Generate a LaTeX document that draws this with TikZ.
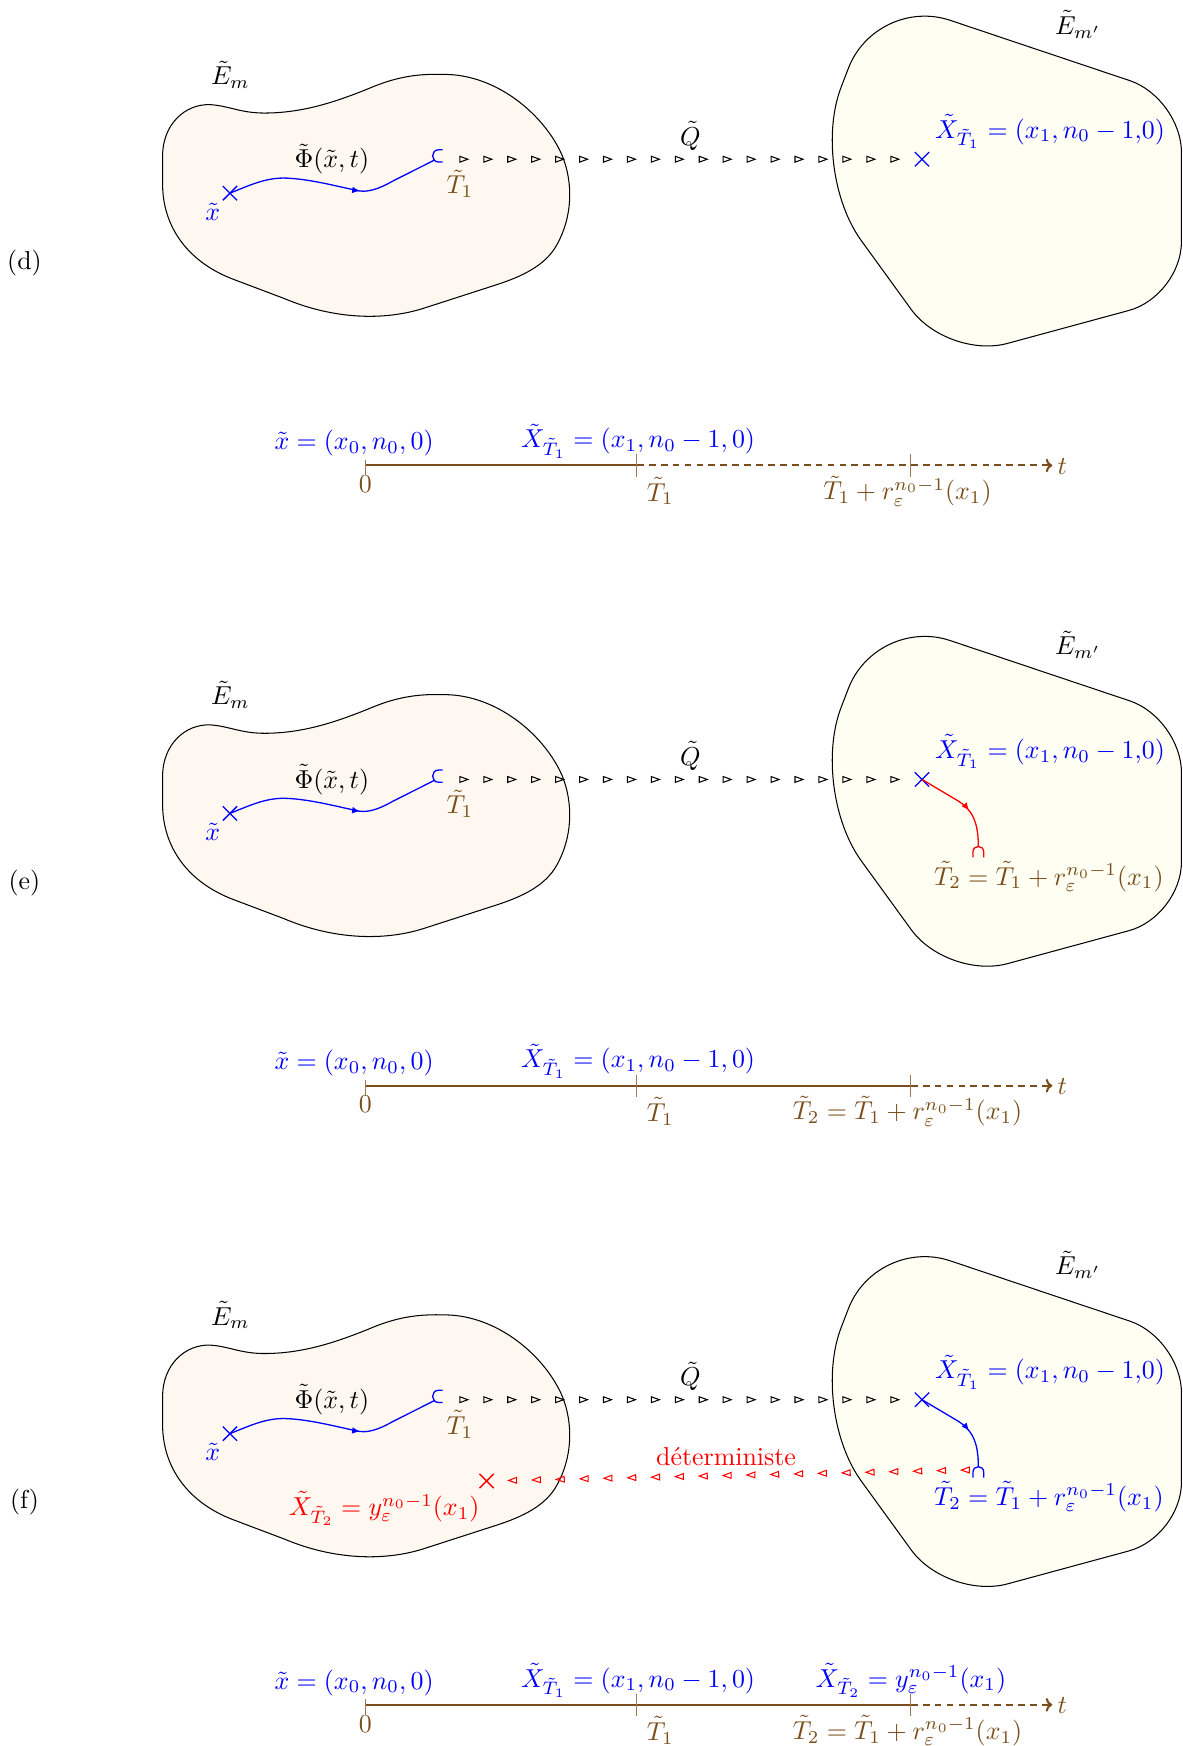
\documentclass[tikz,border=0pt]{standalone}
\usetikzlibrary{arrows.meta,decorations.markings,shapes.misc}
\definecolor{tbrown}{RGB}{122,78,28}
\definecolor{lfill}{RGB}{254,248,240}
\definecolor{rfill}{RGB}{254,254,242}
\tikzset{
  blob/.style={draw=black, line width=0.4pt},
  xmark/.style={cross out, draw, inner sep=0pt, minimum size=5pt, line width=0.5pt},
  lab/.style={inner sep=0pt},
  traj/.style={line width=0.5pt, postaction={decorate},
    decoration={markings, mark=at position #1 with {\arrow{Latex[length=3pt,width=2.6pt]}}}},
  rtri/.style={decorate, decoration={markings,
    mark=between positions 11pt and 178pt step 9.24pt with {\arrow{Triangle[open,length=3.9pt,width=2.7pt,line width=0.4pt,color=#1]}}}},
  ltri/.style={decorate, decoration={markings,
    mark=between positions 5.2pt and 182pt step 9.2pt with {\arrow{Triangle[open,length=3.9pt,width=2.7pt,line width=0.4pt,color=#1]}}}},
  capdown/.pic={\draw[line width=0.5pt] (-4.8,10) -- (-4.8,5) .. controls (-4.8,-1.4) and (4.8,-1.4) .. (4.8,5) -- (4.8,10);},
  capright/.pic={\draw[line width=0.5pt] (9,-5.5) -- (5.5,-5.5) .. controls (-1.83,-5.5) and (-1.83,5.5) .. (5.5,5.5) -- (9,5.5);},
  axisline/.style={tbrown, line width=0.8pt},
  axisdash/.style={tbrown, line width=0.8pt, dash pattern=on 2.6pt off 2pt, -{To[length=2.5pt]}},
  tickmark/.style={tbrown!75, line width=0.4pt},
  panelbase/.pic={
    \draw[blob, fill=lfill] (146,165) -- (146,140)
      .. controls (146,112) and (166,93) .. (189,94)
      .. controls (205,95) and (215,101) .. (235,101.5)
      .. controls (270,102) and (300,92) .. (330,80)
      .. controls (360,67) and (380,66) .. (405,67)
      .. controls (450,70) and (490,105) .. (505,140)
      .. controls (515,165) and (514,195) .. (500,220)
      .. controls (490,238) and (470,248) .. (445,256)
      -- (380,277)
      .. controls (345,288) and (300,287) .. (255,268)
      -- (210,251)
      .. controls (170,236) and (146,205) .. (146,165) -- cycle;
    \draw[blob, fill=rfill] (924,42) [rounded corners=21pt] -- (1061,88) -- (1061,266)
      [rounded corners=24pt] -- (851,323) [rounded corners=34pt] -- (727,152)
      [rounded corners=30pt] -- (787,-4) [rounded corners=21pt] -- cycle;
    \node[lab] (-Em) at (207,67) {$\tilde E_m$};
    \node[lab] (-Emp) at (968,22) {$\tilde E_{m'}$};
    \node[xmark, blue] (-x) at (206.5,173.5) {};
    \node[lab, blue] (-xl) at (191,190) {$\tilde x$};
    \coordinate (-T1) at (390.5,143.6);
    \draw[traj=0.62, blue] (-x.center) .. controls (225,166) and (240,159) .. (258,160)
      .. controls (280,161) and (305,168) .. (323,171.5)
      .. controls (333,173) and (345,167) .. (352,163) -- (-T1);
    \pic[blue] at (388.5,140) {capright};
    \node[lab] (-Phi) at (298,143) {$\tilde\Phi(\tilde x,t)$};
    \node[lab, tbrown] (-T1l) at (413,165) {$\tilde T_1$};
    \coordinate (-Q0) at (396,143);
    \node[xmark, blue] (-X1) at (828,143) {};
    \draw[rtri=black] (-Q0) -- (-X1);
    \node[lab] (-Q) at (620,122) {$\tilde Q$};
    \node[lab, blue] (-X1l) at (943,118) {$\tilde X_{\tilde T_1}=(x_1,n_0-1{,}0)$};
  }
}
\begin{document}
\begin{tikzpicture}[x=0.0151cm, y=-0.0151cm]
\useasboundingbox (0,0) rectangle (1062,1568);

% ---------- panel (d)
\node[lab] (pd) at (22,236) {(d)};
\pic (d) at (0,0) {panelbase};

\coordinate (dA0) at (328,418);
\coordinate (dA1) at (572,418);
\coordinate (dA2) at (818,418);
\coordinate (dAe) at (945,418);
\draw[axisline] (dA0) -- (dA1);
\draw[axisdash] (dA1) -- (dAe);
\draw[tickmark] (dA0) ++(0,-5) -- ++(0,14);
\draw[tickmark] (dA1) ++(0,-10) -- ++(0,20);
\draw[tickmark] (dA2) ++(0,-10) -- ++(0,20);
\node[lab, blue] (dl1) at (318,398) {$\tilde x=(x_0,n_0,0)$};
\node[lab, blue] (dl2) at (573,396) {$\tilde X_{\tilde T_1}=(x_1,n_0-1,0)$};
\node[lab, tbrown] (dl3) at (328,435) {$0$};
\node[lab, tbrown] (dl4) at (593,441) {$\tilde T_1$};
\node[lab, tbrown] (dl5) at (815,441) {$\tilde T_1+r_\varepsilon^{n_0-1}(x_1)$};
\node[lab, tbrown] (dt) at (954,419) {$t$};

% ---------- panel (e)
\node[lab] (pe) at (22,793) {(e)};
\pic (e) at (0,557) {panelbase};
\coordinate (eT2) at (878.6,760);
\draw[traj=0.6, red] (e-X1.center) -- (860,719) .. controls (873,727) and (878.6,738) .. (eT2);
\pic[red] at (eT2) {capdown};
\node[lab, tbrown] (eT2l) at (942,787) {$\tilde T_2=\tilde T_1+r_\varepsilon^{n_0-1}(x_1)$};

\coordinate (eA0) at (328,975);
\coordinate (eA1) at (572,975);
\coordinate (eA2) at (818,975);
\coordinate (eAe) at (945,975);
\draw[axisline] (eA0) -- (eA2);
\draw[axisdash] (eA2) -- (eAe);
\draw[tickmark] (eA0) ++(0,-5) -- ++(0,14);
\draw[tickmark] (eA1) ++(0,-10) -- ++(0,20);
\draw[tickmark] (eA2) ++(0,-10) -- ++(0,20);
\node[lab, blue] (el1) at (318,955) {$\tilde x=(x_0,n_0,0)$};
\node[lab, blue] (el2) at (573,953) {$\tilde X_{\tilde T_1}=(x_1,n_0-1,0)$};
\node[lab, tbrown] (el3) at (328,992) {$0$};
\node[lab, tbrown] (el4) at (593,998) {$\tilde T_1$};
\node[lab, tbrown] (el5) at (815,998) {$\tilde T_2=\tilde T_1+r_\varepsilon^{n_0-1}(x_1)$};
\node[lab, tbrown] (et) at (954,976) {$t$};

% ---------- panel (f)
\node[lab] (pf) at (22,1349) {(f)};
\pic (f) at (0,1114) {panelbase};
\coordinate (fT2) at (878.6,1317);
\draw[traj=0.6, blue] (f-X1.center) -- (860,1276) .. controls (873,1284) and (878.6,1295) .. (fT2);
\pic[blue] at (fT2) {capdown};
\node[lab, blue] (fT2l) at (942,1344) {$\tilde T_2=\tilde T_1+r_\varepsilon^{n_0-1}(x_1)$};
\node[xmark, red] (fXr) at (437,1330) {};
\coordinate (fR0) at (874,1320);
\draw[ltri=red] (fR0) -- (fXr);
\node[lab, red] (fdet) at (652,1308) {déterministe};
\node[lab, red] (fXrl) at (345,1355) {$\tilde X_{\tilde T_2}=y_\varepsilon^{n_0-1}(x_1)$};

\coordinate (fA0) at (328,1531);
\coordinate (fA1) at (572,1531);
\coordinate (fA2) at (818,1531);
\coordinate (fAe) at (945,1531);
\draw[axisline] (fA0) -- (fA2);
\draw[axisdash] (fA2) -- (fAe);
\draw[tickmark] (fA0) ++(0,-5) -- ++(0,14);
\draw[tickmark] (fA1) ++(0,-10) -- ++(0,20);
\draw[tickmark] (fA2) ++(0,-10) -- ++(0,20);
\node[lab, blue] (fl1) at (318,1511) {$\tilde x=(x_0,n_0,0)$};
\node[lab, blue] (fl2) at (573,1509) {$\tilde X_{\tilde T_1}=(x_1,n_0-1,0)$};
\node[lab, blue] (fl6) at (818,1509) {$\tilde X_{\tilde T_2}=y_\varepsilon^{n_0-1}(x_1)$};
\node[lab, tbrown] (fl3) at (328,1548) {$0$};
\node[lab, tbrown] (fl4) at (593,1554) {$\tilde T_1$};
\node[lab, tbrown] (fl5) at (815,1554) {$\tilde T_2=\tilde T_1+r_\varepsilon^{n_0-1}(x_1)$};
\node[lab, tbrown] (ft) at (954,1532) {$t$};
\end{tikzpicture}
\end{document}
